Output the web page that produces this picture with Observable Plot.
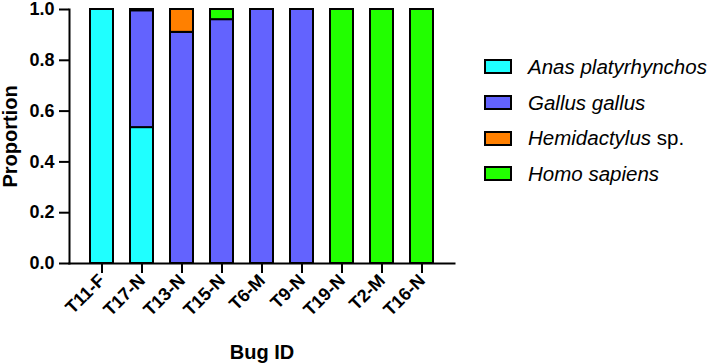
<!DOCTYPE html>
<html>
<head>
<meta charset="utf-8">
<script src="https://cdn.jsdelivr.net/npm/d3@7"></script>
<script src="https://cdn.jsdelivr.net/npm/@observablehq/plot@0.6"></script>
<style>
  html, body { margin: 0; padding: 0; background: #fff; }
  #wrap { position: relative; width: 708px; height: 364px; font-family: "Liberation Sans", Arial, sans-serif; }
  #wrap svg text { font-family: "Liberation Sans", Arial, sans-serif; fill: #000; }
  .legend { position: absolute; left: 484px; top: 49px; }
  .legend .row { display: flex; align-items: center; height: 35.7px; white-space: nowrap; }
  .legend .sw { width: 28px; height: 15px; box-sizing: border-box; border: 2px solid #000; margin-right: 16px; }
  .legend .lab { font-size: 20.5px; color: #000; }
</style>
</head>
<body>
<div id="wrap"></div>
<script>
// Bug samples (x categories)
const bugs = ["T11-F", "T17-N", "T13-N", "T15-N", "T6-M", "T9-N", "T19-N", "T2-M", "T16-N"];

// Host species, in stacking order (bottom to top)
const species = ["Anas platyrhynchos", "Gallus gallus", "Hemidactylus sp.", "Homo sapiens"];
const speciesColors = ["#1FFFFF", "#6363FE", "#FF8000", "#22FF00"];

// Proportion of blood meal per bug, one array per host species
const anas   = [1.00, 0.535, 0.00, 0.00, 0.00, 0.00, 0.00, 0.00, 0.00];
const gallus = [0.00, 0.46,  0.91, 0.96, 1.00, 1.00, 0.00, 0.00, 0.00];
const hemi   = [0.00, 0.00,  0.09, 0.00, 0.00, 0.00, 0.00, 0.00, 0.00];
const homo   = [0.00, 0.005, 0.00, 0.04, 0.00, 0.00, 1.00, 1.00, 1.00];

const yTicks = [0, 0.2, 0.4, 0.6, 0.8, 1.0];

const series = [anas, gallus, hemi, homo];
const rows = [];
series.forEach((vals, si) => {
  vals.forEach((v, bi) => {
    if (v > 0) rows.push({bug: bugs[bi], species: species[si], value: v});
  });
});

const chart = Plot.plot({
  width: 708,
  height: 364,
  marginLeft: 69,
  marginRight: 254,
  marginTop: 9,
  marginBottom: 101,
  style: {fontFamily: "Liberation Sans, Arial, sans-serif", color: "#000", background: "#fff"},
  x: {domain: bugs, paddingInner: 0.415, paddingOuter: 0.415},
  y: {domain: [0, 1]},
  color: {domain: species, range: speciesColors},
  marks: [
    Plot.barY(rows, Plot.stackY({
      x: "bug",
      y: "value",
      fill: "species",
      order: species,
      stroke: "#000",
      strokeWidth: 2,
      inset: 0
    })),
    Plot.axisY({
      ticks: yTicks,
      tickFormat: d3.format(".1f"),
      tickSize: 10,
      tickPadding: 5,
      strokeWidth: 2,
      fontSize: 18,
      fontWeight: "bold",
      label: "Proportion",
      labelAnchor: "center",
      labelArrow: "none",
      labelOffset: 67
    }),
    Plot.axisX({
      tickSize: 10,
      tickPadding: 4,
      strokeWidth: 2,
      tickRotate: -45,
      fontSize: 18,
      fontWeight: "bold",
      label: "Bug ID",
      labelAnchor: "center",
      labelArrow: "none",
      labelOffset: 95
    }),
    Plot.frame({anchor: "left", stroke: "#000", strokeWidth: 2}),
    Plot.frame({anchor: "bottom", stroke: "#000", strokeWidth: 2})
  ]
});

// enlarge the axis titles
chart.querySelectorAll("g[aria-label='y-axis label'] text, g[aria-label='x-axis label'] text").forEach(t => {
  t.setAttribute("font-size", 20);
  t.setAttribute("font-weight", "bold");
});

const wrap = document.getElementById("wrap");
wrap.appendChild(chart);

// Legend
const legend = document.createElement("div");
legend.className = "legend";
species.forEach((s, i) => {
  const row = document.createElement("div");
  row.className = "row";
  const sw = document.createElement("div");
  sw.className = "sw";
  sw.style.background = speciesColors[i];
  const lab = document.createElement("span");
  lab.className = "lab";
  if (s.endsWith(" sp.")) {
    lab.innerHTML = "<i>" + s.slice(0, -4) + "</i> sp.";
  } else {
    lab.innerHTML = "<i>" + s + "</i>";
  }
  row.appendChild(sw);
  row.appendChild(lab);
  legend.appendChild(row);
});
wrap.appendChild(legend);
</script>
</body>
</html>
